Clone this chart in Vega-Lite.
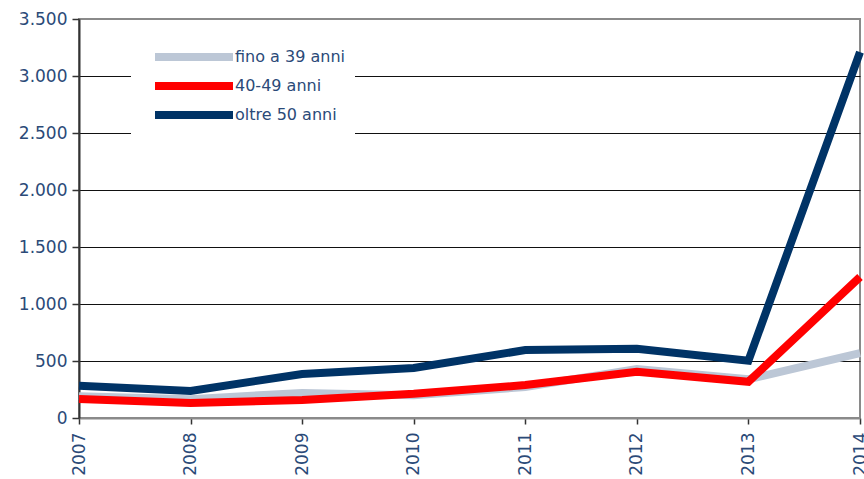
{
  "$schema": "https://vega.github.io/schema/vega-lite/v6.json",
  "autosize": {"type": "none"},
  "width": 781,
  "height": 399,
  "padding": {"left": 79, "top": 19, "right": 4, "bottom": 61},
  "background": "white",
  "config": {
    "view": {"stroke": "#8a8a8a", "strokeWidth": 2},
    "font": "DejaVu Sans"
  },
  "data": {
    "values": [
      {"anno": "2007", "gruppo": "fino a 39 anni", "valore": 190},
      {"anno": "2008", "gruppo": "fino a 39 anni", "valore": 165},
      {"anno": "2009", "gruppo": "fino a 39 anni", "valore": 220},
      {"anno": "2010", "gruppo": "fino a 39 anni", "valore": 200},
      {"anno": "2011", "gruppo": "fino a 39 anni", "valore": 272},
      {"anno": "2012", "gruppo": "fino a 39 anni", "valore": 430},
      {"anno": "2013", "gruppo": "fino a 39 anni", "valore": 340},
      {"anno": "2014", "gruppo": "fino a 39 anni", "valore": 570},
      {"anno": "2007", "gruppo": "40-49 anni", "valore": 167},
      {"anno": "2008", "gruppo": "40-49 anni", "valore": 131},
      {"anno": "2009", "gruppo": "40-49 anni", "valore": 158},
      {"anno": "2010", "gruppo": "40-49 anni", "valore": 212},
      {"anno": "2011", "gruppo": "40-49 anni", "valore": 289},
      {"anno": "2012", "gruppo": "40-49 anni", "valore": 406},
      {"anno": "2013", "gruppo": "40-49 anni", "valore": 318},
      {"anno": "2014", "gruppo": "40-49 anni", "valore": 1237},
      {"anno": "2007", "gruppo": "oltre 50 anni", "valore": 283},
      {"anno": "2008", "gruppo": "oltre 50 anni", "valore": 237},
      {"anno": "2009", "gruppo": "oltre 50 anni", "valore": 386},
      {"anno": "2010", "gruppo": "oltre 50 anni", "valore": 439},
      {"anno": "2011", "gruppo": "oltre 50 anni", "valore": 596},
      {"anno": "2012", "gruppo": "oltre 50 anni", "valore": 608},
      {"anno": "2013", "gruppo": "oltre 50 anni", "valore": 503},
      {"anno": "2014", "gruppo": "oltre 50 anni", "valore": 3210}
    ]
  },
  "mark": {"type": "line", "strokeWidth": 8, "strokeJoin": "miter", "strokeCap": "butt"},
  "encoding": {
    "x": {
      "field": "anno",
      "type": "ordinal",
      "scale": {"type": "point", "padding": 0},
      "axis": {
        "title": null,
        "labelAngle": -90,
        "labelFontSize": 17,
        "labelColor": "#2b4a78",
        "labelPadding": 8,
        "domainColor": "#8a8a8a",
        "domainWidth": 2,
        "tickColor": "#333333",
        "tickWidth": 1.5,
        "tickSize": 6,
        "grid": false
      }
    },
    "y": {
      "field": "valore",
      "type": "quantitative",
      "scale": {"domain": [0, 3500], "nice": false},
      "axis": {
        "title": null,
        "values": [0, 500, 1000, 1500, 2000, 2500, 3000, 3500],
        "labelExpr": "replace(format(datum.value, ','), ',', '.')",
        "labelFontSize": 17,
        "labelColor": "#2b4a78",
        "labelPadding": 5,
        "domainColor": "#333333",
        "domainWidth": 2,
        "tickColor": "#333333",
        "tickWidth": 1.5,
        "tickSize": 7,
        "grid": true,
        "gridColor": {
          "condition": {"test": "datum.value == 0 || datum.value == 3500", "value": "transparent"},
          "value": "#111111"
        },
        "gridWidth": 1
      }
    },
    "color": {
      "field": "gruppo",
      "type": "nominal",
      "sort": null,
      "scale": {
        "domain": ["fino a 39 anni", "40-49 anni", "oltre 50 anni"],
        "range": ["#bcc7d6", "#ff0000", "#003366"]
      },
      "legend": {
        "title": null,
        "orient": "none",
        "legendX": 52,
        "legendY": 19,
        "fillColor": "white",
        "padding": 10,
        "symbolType": "M-7.8,0H7.8",
        "symbolSize": 100,
        "symbolStrokeWidth": 8,
        "symbolOffset": 44,
        "labelFontSize": 16,
        "labelColor": "#2b4a78",
        "labelOffset": 32,
        "rowPadding": -3
      }
    }
  }
}
